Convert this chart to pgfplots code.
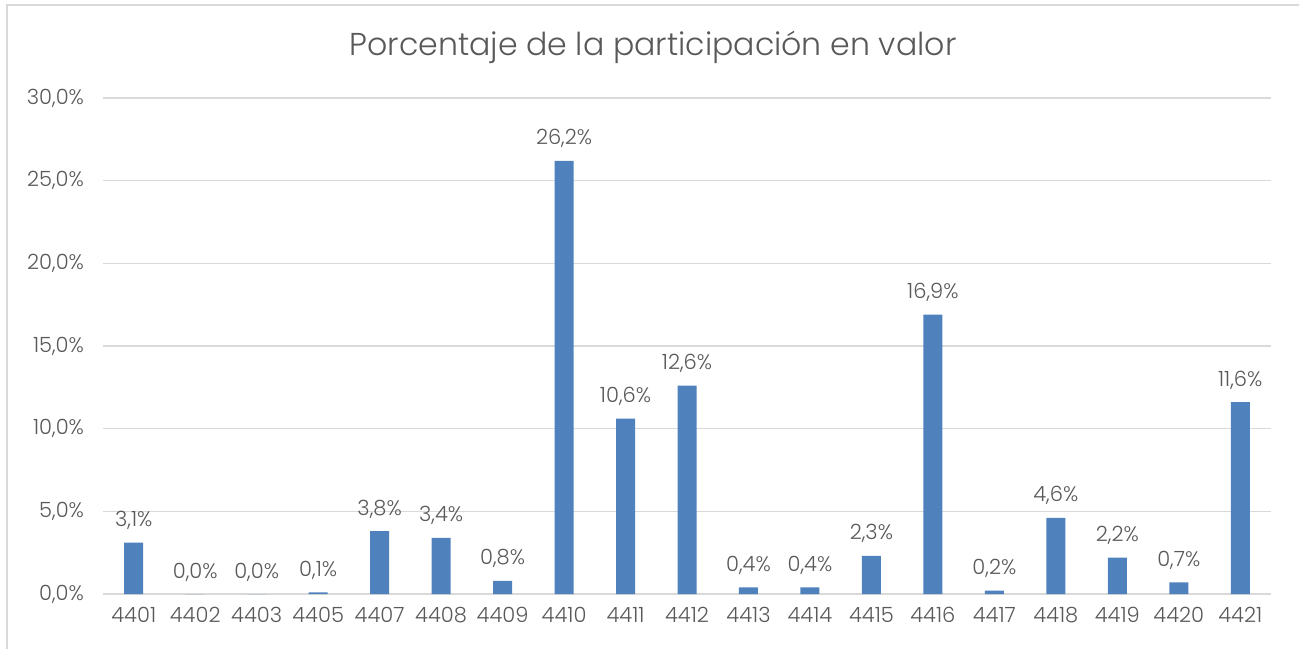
\documentclass[border=0pt]{standalone}
\usepackage{pgfplots}
\pgfplotsset{compat=1.18}
\usepackage{fontspec}
\setmainfont{Poppins}[UprightFont=* Light]
\definecolor{txt}{HTML}{595959}
\definecolor{gridc}{HTML}{D9D9D9}
\definecolor{barc}{HTML}{4F81BD}
\begin{document}
\begin{tikzpicture}
\useasboundingbox (0,0) rectangle (649.5pt,324pt);
\draw[gridc, line width=0.8pt] (3.5pt,-5pt) -- (3.5pt,321.5pt) -- (655pt,321.5pt);
\node[txt, font=\fontsize{15.8}{18}\selectfont] at (326.5pt,300.5pt) {Porcentaje de la participación en valor};
\begin{axis}[
  at={(51.5pt,27pt)}, anchor=south west,
  scale only axis, width=584pt, height=248pt,
  xmin=-0.5, xmax=18.5, ymin=0, ymax=30,
  ytick={0,5,10,15,20,25,30},
  xtick=data,
  xticklabels={4401,4402,4403,4405,4407,4408,4409,4410,4411,4412,4413,4414,4415,4416,4417,4418,4419,4420,4421},
  axis x line*=bottom, axis y line*=left,
  y axis line style={draw=none},
  x axis line style={gridc, line width=0.8pt},
  ymajorgrids, grid style={gridc, line width=0.8pt},
  major tick length=0pt,
  /pgf/number format/assume math mode=true,
  yticklabel={\pgfmathprintnumber[fixed,fixed zerofill,precision=1,use comma]{\tick}\%},
  yticklabel style={txt, font=\fontsize{10.5}{12}\selectfont, xshift=-6pt},
  xticklabel style={txt, font=\fontsize{10.5}{12}\selectfont, yshift=-3pt},
  ybar, bar width=9.5pt,
  nodes near coords={\pgfmathprintnumber[fixed,fixed zerofill,precision=1,use comma,assume math mode=true]{\pgfplotspointmeta}\%},
  every node near coord/.append style={txt, font=\fontsize{10.5}{12}\selectfont, anchor=base, inner sep=0pt, yshift=8pt},
  clip=false,
]
\addplot[fill=barc, draw=none] coordinates {
(0,3.1) (1,0.0) (2,0.0) (3,0.1) (4,3.8) (5,3.4) (6,0.8) (7,26.2) (8,10.6) (9,12.6)
(10,0.4) (11,0.4) (12,2.3) (13,16.9) (14,0.2) (15,4.6) (16,2.2) (17,0.7) (18,11.6)};
\end{axis}
\end{tikzpicture}
\end{document}
